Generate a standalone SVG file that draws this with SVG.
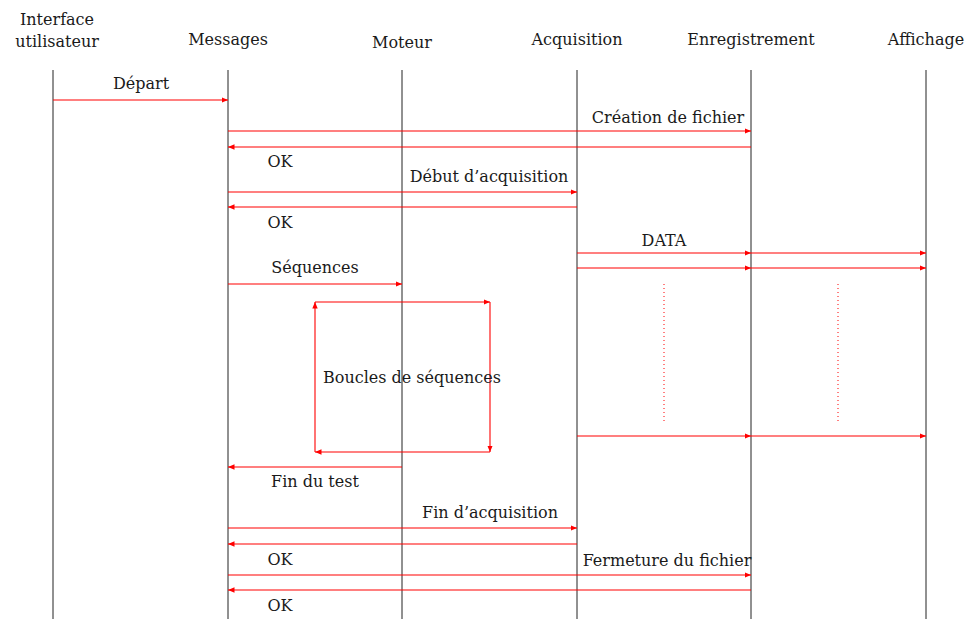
<svg xmlns="http://www.w3.org/2000/svg" width="968" height="619" viewBox="0 0 968 619">
<style>
text{font-family:"DejaVu Serif","Liberation Serif",serif;font-size:16px;fill:#1a1a1a;text-anchor:middle}
.life{stroke:#222;stroke-width:1}
.msg{stroke:#ff0000;stroke-width:1.1;fill:none;marker-end:url(#ah)}
.dot{stroke:#ff0000;stroke-width:1;stroke-dasharray:1 3;fill:none}
</style>
<defs>
<marker id="ah" markerUnits="userSpaceOnUse" markerWidth="7" markerHeight="6" refX="6.5" refY="3" orient="auto">
<path d="M0,0.3 L6.5,3 L0,5.7 z" fill="#ff0000"/>
</marker>
</defs>
<rect width="968" height="619" fill="#fff"/>
<g id="ui"><text x="57" y="25">Interface</text><text x="57" y="47">utilisateur</text><line class="life" x1="53" y1="70" x2="53" y2="619"/></g>
<g id="messages"><text x="228" y="45">Messages</text><line class="life" x1="228" y1="70" x2="228" y2="619"/></g>
<g id="moteur"><text x="402" y="48">Moteur</text><line class="life" x1="402" y1="70" x2="402" y2="619"/></g>
<g id="acquisition"><text x="577" y="45">Acquisition</text><line class="life" x1="577" y1="70" x2="577" y2="619"/></g>
<g id="enregistrement"><text x="751" y="45">Enregistrement</text><line class="life" x1="751" y1="70" x2="751" y2="619"/></g>
<g id="affichage"><text x="926" y="45">Affichage</text><line class="life" x1="926" y1="70" x2="926" y2="619"/></g>
<g id="connectors">
<line class="msg" x1="53" y1="100" x2="228" y2="100"/>
<line class="msg" x1="228" y1="131" x2="751" y2="131"/>
<line class="msg" x1="751" y1="147" x2="228" y2="147"/>
<line class="msg" x1="228" y1="192" x2="577" y2="192"/>
<line class="msg" x1="577" y1="207" x2="228" y2="207"/>
<line class="msg" x1="577" y1="253" x2="751" y2="253"/>
<line class="msg" x1="751" y1="253" x2="926" y2="253"/>
<line class="msg" x1="577" y1="268" x2="751" y2="268"/>
<line class="msg" x1="751" y1="268" x2="926" y2="268"/>
<line class="dot" x1="664" y1="284" x2="664" y2="421"/>
<line class="dot" x1="838" y1="284" x2="838" y2="421"/>
<line class="msg" x1="577" y1="436" x2="751" y2="436"/>
<line class="msg" x1="751" y1="436" x2="926" y2="436"/>
<line class="msg" x1="228" y1="284" x2="402" y2="284"/>
<line class="msg" x1="315" y1="302" x2="490" y2="302"/>
<line class="msg" x1="490" y1="302" x2="490" y2="452"/>
<line class="msg" x1="490" y1="452" x2="315" y2="452"/>
<line class="msg" x1="315" y1="452" x2="315" y2="302"/>
<line class="msg" x1="402" y1="467" x2="228" y2="467"/>
<line class="msg" x1="228" y1="528" x2="577" y2="528"/>
<line class="msg" x1="577" y1="544" x2="228" y2="544"/>
<line class="msg" x1="228" y1="575" x2="751" y2="575"/>
<line class="msg" x1="751" y1="590" x2="228" y2="590"/>
</g>
<g id="labels">
<text x="141" y="89">Départ</text>
<text x="668" y="123">Création de fichier</text>
<text x="280" y="167">OK</text>
<text x="489" y="182">Début d’acquisition</text>
<text x="280" y="228">OK</text>
<text x="664" y="246">DATA</text>
<text x="315" y="273">Séquences</text>
<text x="412" y="383">Boucles de séquences</text>
<text x="315" y="487">Fin du test</text>
<text x="490" y="518">Fin d’acquisition</text>
<text x="280" y="565">OK</text>
<text x="667" y="566">Fermeture du fichier</text>
<text x="280" y="611">OK</text>
</g>
</svg>
